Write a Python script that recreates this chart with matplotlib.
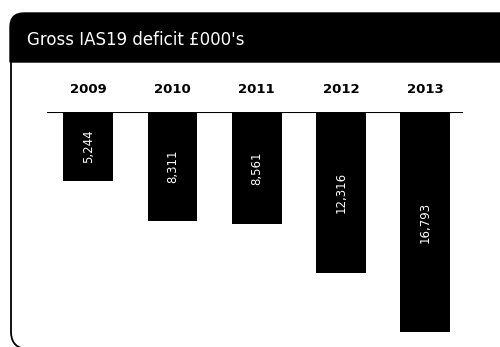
import matplotlib
import matplotlib.pyplot as plt
from matplotlib.path import Path
from matplotlib.patches import PathPatch

matplotlib.use('Agg')

# Gross IAS19 deficit by year, £000's
years = ["2009", "2010", "2011", "2012", "2013"]
deficit = [5244, 8311, 8561, 12316, 16793]
title = "Gross IAS19 deficit £000's"

W, H = 500, 347
fig = plt.figure(figsize=(W / 100, H / 100), dpi=100)

# overlay in pixel units for the frame and the title strip
frame = fig.add_axes([0, 0, 1, 1])
frame.set_xlim(0, W)
frame.set_ylim(H, 0)
frame.axis('off')

r = 14
strip = Path([(10, 62), (10, 13 + r), (10, 13), (10 + r, 13), (W + 5, 13),
              (W + 5, 62), (10, 62)],
             [Path.MOVETO, Path.LINETO, Path.CURVE3, Path.CURVE3, Path.LINETO,
              Path.LINETO, Path.CLOSEPOLY])
frame.add_patch(PathPatch(strip, facecolor='black', edgecolor='black'))
border = Path([(11, 62), (11, 332), (11, 346), (24, 349)],
              [Path.MOVETO, Path.LINETO, Path.CURVE3, Path.CURVE3])
frame.add_patch(PathPatch(border, facecolor='none', edgecolor='black', lw=1.3))
frame.text(27, 40, title, color='white', fontsize=12, va='center', ha='left')

# bars hang down from the baseline
ax = fig.add_axes([47 / W, 7 / H, 416 / W, 228 / H])
x = list(range(len(years)))
ax.bar(x, [-v for v in deficit], width=0.59, color='black')
ax.set_xlim(-0.49, 4.45)
ax.set_ylim(-17400, 0)
ax.axhline(0, color='black', lw=1.5)
for s in ax.spines.values():
    s.set_visible(False)
ax.set_xticks([])
ax.set_yticks([])
ax.patch.set_alpha(0)

for i, v in enumerate(deficit):
    ax.text(i, -v / 2, f"{v:,}", color='white', rotation=90, ha='center',
            va='center', fontsize=8.5)
    ax.text(i, 1250, years[i], ha='center', va='bottom', fontsize=9.5,
            fontweight='bold', clip_on=False)

fig.savefig("out.png", dpi=100)
